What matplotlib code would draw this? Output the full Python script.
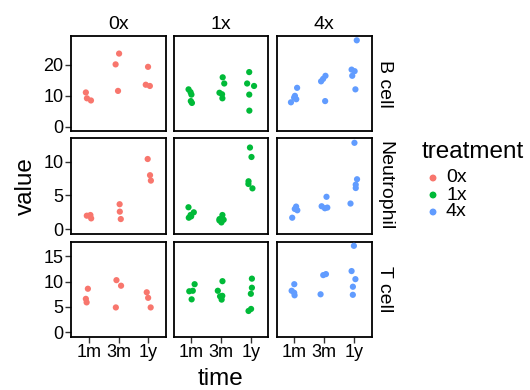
import numpy as np
import matplotlib
matplotlib.use("Agg")
import matplotlib.pyplot as plt

plt.rcParams['font.family'] = ['Liberation Sans', 'DejaVu Sans']

treatments = ["0x", "1x", "4x"]
cell_types = ["B cell", "Neutrophil", "T cell"]
times = ["1m", "3m", "1y"]
colors = ["#F8766D", "#00BA38", "#619CFF"]

# values[cell][treatment][time]
b_0x = [[11.1, 9.2, 8.5], [23.7, 20.2, 11.6], [19.4, 13.6, 13.2]]
b_1x = [[12.1, 11.2, 10.4, 8.3, 7.7], [16.0, 14.0, 11.0, 10.5, 9.2], [17.7, 14.0, 13.2, 10.4, 5.2]]
b_4x = [[12.6, 10.0, 9.4, 8.9, 7.9], [16.5, 15.5, 14.7, 8.3], [28.0, 18.5, 18.0, 16.5, 12.1]]
n_0x = [[2.1, 2.0, 1.6], [3.7, 2.6, 1.5], [10.4, 8.0, 7.2]]
n_1x = [[3.25, 2.5, 2.1, 1.9, 1.7], [2.1, 1.5, 1.4, 1.3, 1.0], [12.1, 10.7, 7.1, 6.7, 6.05]]
n_4x = [[3.35, 3.0, 2.8, 1.7], [4.8, 3.4, 3.2, 3.1], [12.8, 7.4, 6.6, 6.1, 3.8]]
t_0x = [[8.6, 6.6, 5.9], [10.3, 9.2, 4.9], [7.9, 6.8, 4.9]]
t_1x = [[9.5, 8.2, 8.1, 6.5], [10.1, 8.2, 7.2, 7.1, 6.45], [10.6, 8.8, 7.6, 4.6, 4.2]]
t_4x = [[9.5, 8.2, 7.8, 7.3], [11.5, 11.3, 7.5], [17.1, 12.1, 10.5, 9.0, 7.4]]

data = [[b_0x, b_1x, b_4x], [n_0x, n_1x, n_4x], [t_0x, t_1x, t_4x]]
yticks = [[0, 10, 20], [0, 5, 10], [0, 5, 10, 15]]

W, H = 530, 390
fig = plt.figure(figsize=(W / 100, H / 100), dpi=100)

col_left = [71, 173.5, 276.5]
row_top = [36, 138.5, 241.5]
pw, ph = 95, 95

rng = np.random.default_rng(3)

for r, cell in enumerate(cell_types):
    rowmax = max(v for tr in data[r] for grp in tr for v in grp)
    ylo, yhi = -0.05 * rowmax, rowmax * 1.05
    for c, tr in enumerate(treatments):
        ax = fig.add_axes([col_left[c] / W, 1 - (row_top[r] + ph) / H, pw / W, ph / H])
        for ti, grp in enumerate(data[r][c]):
            xs = ti + 1 + rng.uniform(-0.12, 0.12, len(grp))
            ax.scatter(xs, grp, s=20, color=colors[c], edgecolors='none', zorder=3)
        ax.set_xlim(0.4, 3.6)
        ax.set_ylim(ylo, yhi)
        ax.set_xticks([1, 2, 3])
        ax.set_yticks(yticks[r])
        for sp in ax.spines.values():
            sp.set_linewidth(1.3)
            sp.set_color('black')
        ax.tick_params(length=4, width=1, color='#333333', labelsize=13, pad=1.5)
        if c == 0:
            ax.set_yticklabels([str(t) for t in yticks[r]])
        else:
            ax.tick_params(axis='y', left=False, labelleft=False)
        if r == 2:
            ax.set_xticklabels(times)
        else:
            ax.tick_params(axis='x', bottom=False, labelbottom=False)
        if r == 0:
            ax.set_title(tr, fontsize=14, pad=5)
        if c == 2:
            ax.text(1.05, 0.5, cell, transform=ax.transAxes, rotation=-90,
                    ha='left', va='center', fontsize=14)

fig.text(26 / W, 1 - 186 / H, "value", rotation=90, ha='center', va='center', fontsize=17.5)
fig.text(221 / W, 1 - 379 / H, "time", ha='center', va='center', fontsize=17.5)

# legend
fig.text(422 / W, 1 - 152 / H, "treatment", ha='left', va='center', fontsize=17.5)
for i, (tr, col) in enumerate(zip(treatments, colors)):
    y = 1 - (178 + i * 17) / H
    fig.patches.append(matplotlib.patches.Ellipse((433 / W, y), 5.5 / W, 5.5 / H,
                                                  transform=fig.transFigure, color=col))
    fig.text(446 / W, y, tr, ha='left', va='center', fontsize=14)

fig.savefig("out.png", dpi=100)
